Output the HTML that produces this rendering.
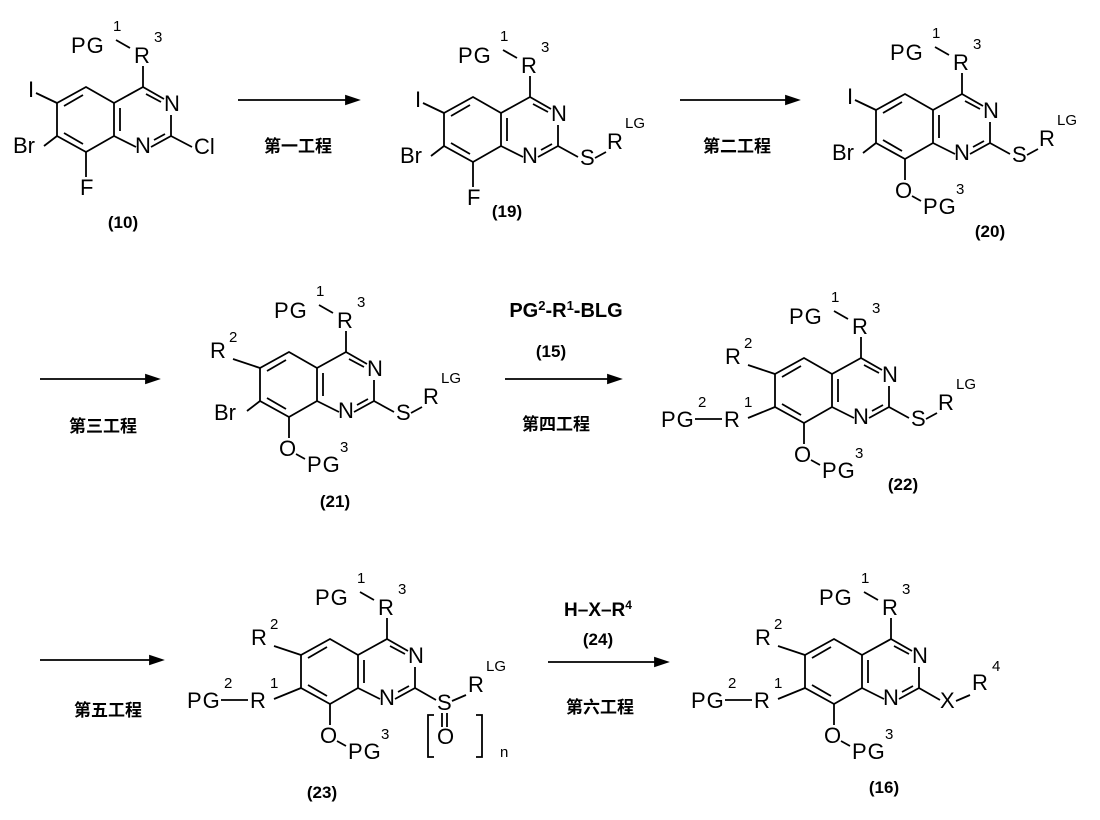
<!DOCTYPE html>
<html><head><meta charset="utf-8"><style>
html,body{margin:0;padding:0;background:#fff;}
svg{display:block;}
text{font-family:"Liberation Sans","Noto Sans CJK SC",sans-serif;fill:#000;}
.a{font-size:22px;}
.s{font-size:15px;}
.b{font-size:17px;font-weight:bold;}
.c{font-size:17px;font-weight:bold;font-family:"Liberation Sans","Noto Sans CJK SC","WenQuanYi Zen Hei",sans-serif;}
</style></head><body>
<svg width="1100" height="820" viewBox="0 0 1100 820" xmlns="http://www.w3.org/2000/svg">
<defs>
<g id="core" stroke="#000" stroke-width="1.8" fill="none">
<path d="M0,0 L29,-16 L50,-4 M57,12 L57,33 L37,44 M22,44 L0,33 L0,0 L-28,-16 L-57,0 L-57,33 L-28,49 L0,33"/>
<path d="M32,-9 L47,-1 M51,31 L40,37 M6,5 L6,28 M-31,-8 L-50,3 M-50,30 L-31,41"/>
<path d="M29,-16 L29,-37 M2,-63 L16,-55"/>
</g>
<g id="top">
<text class="a" x="50" y="8">N</text>
<text class="a" x="21" y="50">N</text>
<text class="a" x="20" y="-40">R</text>
<text class="s" x="40" y="-61">3</text>
<text class="a" x="-43" y="-50" letter-spacing="1">PG</text>
<text class="s" x="-1" y="-72">1</text>
</g>
</defs>
<g stroke="#000" stroke-width="1.8" fill="#000">
<line x1="238" y1="100" x2="348" y2="100"/><path d="M358,100 L346,96 L346,104Z"/>
<line x1="680" y1="100" x2="788" y2="100"/><path d="M798,100 L786,96 L786,104Z"/>
<line x1="40" y1="379" x2="148" y2="379"/><path d="M158,379 L146,375 L146,383Z"/>
<line x1="505" y1="379" x2="610" y2="379"/><path d="M620,379 L608,375 L608,383Z"/>
<line x1="40" y1="660" x2="152" y2="660"/><path d="M162,660 L150,656 L150,664Z"/>
<line x1="548" y1="662" x2="657" y2="662"/><path d="M667,662 L655,658 L655,666Z"/>
</g>
<text class="c" x="298" y="152" text-anchor="middle">第一工程</text>
<text class="c" x="737" y="152" text-anchor="middle">第二工程</text>
<text class="c" x="103" y="432" text-anchor="middle">第三工程</text>
<text class="c" x="556" y="430" text-anchor="middle">第四工程</text>
<text class="c" x="108" y="716" text-anchor="middle">第五工程</text>
<text class="c" x="600" y="713" text-anchor="middle">第六工程</text>
<text x="566" y="317" text-anchor="middle" style="font-size:20px;font-weight:bold">PG<tspan style="font-size:13px" dy="-7">2</tspan><tspan dy="7">-R</tspan><tspan style="font-size:13px" dy="-7">1</tspan><tspan dy="7">-BLG</tspan></text>
<text class="b" x="551" y="357" text-anchor="middle">(15)</text>
<text x="598" y="616" text-anchor="middle" style="font-size:19px;font-weight:bold">H–X–R<tspan style="font-size:12px" dy="-7">4</tspan></text>
<text class="b" x="598" y="645" text-anchor="middle">(24)</text>
<text class="b" x="123" y="228" text-anchor="middle">(10)</text>
<text class="b" x="507" y="217" text-anchor="middle">(19)</text>
<text class="b" x="990" y="237" text-anchor="middle">(20)</text>
<text class="b" x="335" y="507" text-anchor="middle">(21)</text>
<text class="b" x="903" y="490" text-anchor="middle">(22)</text>
<text class="b" x="322" y="798" text-anchor="middle">(23)</text>
<text class="b" x="884" y="793" text-anchor="middle">(16)</text>

<g transform="translate(114,103)">
<use href="#core"/><use href="#top"/>
<path d="M-78,-10 L-57,0 M-70,43 L-57,33 M-28,49 L-28,74 M57,33 L78,44" stroke="#000" stroke-width="1.8"/>
<text class="a" x="-86" y="-6">I</text>
<text class="a" x="-101" y="50">Br</text>
<text class="a" x="-34" y="92">F</text>
<text class="a" x="80" y="51">Cl</text>
</g>
<g transform="translate(501,113)">
<use href="#core"/><use href="#top"/>
<path d="M-78,-10 L-57,0 M-70,43 L-57,33 M-28,49 L-28,74 M57,33 L77,44 M94,45 L105,39" stroke="#000" stroke-width="1.8"/>
<text class="a" x="-86" y="-6">I</text>
<text class="a" x="-101" y="50">Br</text>
<text class="a" x="-34" y="92">F</text>
<text class="a" x="79" y="52">S</text>
<text class="a" x="106" y="36">R</text>
<text class="s" x="124" y="15">LG</text>
</g>
<g transform="translate(933,110)">
<use href="#core"/><use href="#top"/>
<path d="M-78,-10 L-57,0 M-70,43 L-57,33 M-28,49 L-28,70 M57,33 L77,44 M94,45 L105,39 M-21,86 L-12,91" stroke="#000" stroke-width="1.8"/>
<text class="a" x="-86" y="-6">I</text>
<text class="a" x="-101" y="50">Br</text>
<text class="a" x="-38" y="88">O</text>
<text class="a" x="-10" y="104" letter-spacing="1">PG</text>
<text class="s" x="23" y="84">3</text>
<text class="a" x="79" y="52">S</text>
<text class="a" x="106" y="36">R</text>
<text class="s" x="124" y="15">LG</text>
</g>
<g transform="translate(317,368)">
<use href="#core"/><use href="#top"/>
<path d="M-84,-9 L-57,0 M-70,43 L-57,33 M-28,49 L-28,70 M57,33 L77,44 M94,45 L105,39 M-21,86 L-12,91" stroke="#000" stroke-width="1.8"/>
<text class="a" x="-107" y="-10">R</text>
<text class="s" x="-88" y="-26">2</text>
<text class="a" x="-103" y="52">Br</text>
<text class="a" x="-38" y="88">O</text>
<text class="a" x="-10" y="104" letter-spacing="1">PG</text>
<text class="s" x="23" y="84">3</text>
<text class="a" x="79" y="52">S</text>
<text class="a" x="106" y="36">R</text>
<text class="s" x="124" y="15">LG</text>
</g>
<g transform="translate(832,374)">
<use href="#core"/><use href="#top"/>
<path d="M-84,-9 L-57,0 M-84,44 L-57,33 M-137,45 L-110,45 M-28,49 L-28,70 M57,33 L77,44 M94,45 L105,39 M-21,86 L-12,91" stroke="#000" stroke-width="1.8"/>
<text class="a" x="-107" y="-10">R</text>
<text class="s" x="-88" y="-26">2</text>
<text class="a" x="-171" y="53" letter-spacing="1">PG</text>
<text class="s" x="-134" y="33">2</text>
<text class="a" x="-108" y="53">R</text>
<text class="s" x="-88" y="33">1</text>
<text class="a" x="-38" y="88">O</text>
<text class="a" x="-10" y="104" letter-spacing="1">PG</text>
<text class="s" x="23" y="84">3</text>
<text class="a" x="79" y="52">S</text>
<text class="a" x="106" y="36">R</text>
<text class="s" x="124" y="15">LG</text>
</g>
<g transform="translate(358,655)">
<use href="#core"/><use href="#top"/>
<path d="M-84,-9 L-57,0 M-84,44 L-57,33 M-137,45 L-110,45 M-28,49 L-28,70 M57,33 L78,45 M94,46 L108,40 M-21,86 L-12,91 M84,58 L84,72 M89,58 L89,72" stroke="#000" stroke-width="1.8" fill="none"/>
<path d="M76,60 H70 V102 H76 M118,60 H124 V102 H118" stroke="#000" stroke-width="1.8" fill="none"/>
<text class="a" x="-107" y="-10">R</text>
<text class="s" x="-88" y="-26">2</text>
<text class="a" x="-171" y="53" letter-spacing="1">PG</text>
<text class="s" x="-134" y="33">2</text>
<text class="a" x="-108" y="53">R</text>
<text class="s" x="-88" y="33">1</text>
<text class="a" x="-38" y="88">O</text>
<text class="a" x="-10" y="104" letter-spacing="1">PG</text>
<text class="s" x="23" y="84">3</text>
<text class="a" x="79" y="55">S</text>
<text class="a" x="79" y="89">O</text>
<text class="a" x="110" y="37">R</text>
<text class="s" x="128" y="16">LG</text>
<text class="s" x="142" y="102" font-size="16">n</text>
</g>
<g transform="translate(862,655)">
<use href="#core"/><use href="#top"/>
<path d="M-84,-9 L-57,0 M-84,44 L-57,33 M-137,45 L-110,45 M-28,49 L-28,70 M57,33 L78,45 M94,46 L108,40 M-21,86 L-12,91" stroke="#000" stroke-width="1.8"/>
<text class="a" x="-107" y="-10">R</text>
<text class="s" x="-88" y="-26">2</text>
<text class="a" x="-171" y="53" letter-spacing="1">PG</text>
<text class="s" x="-134" y="33">2</text>
<text class="a" x="-108" y="53">R</text>
<text class="s" x="-88" y="33">1</text>
<text class="a" x="-38" y="88">O</text>
<text class="a" x="-10" y="104" letter-spacing="1">PG</text>
<text class="s" x="23" y="84">3</text>
<text class="a" x="78" y="53">X</text>
<text class="a" x="110" y="35">R</text>
<text class="s" x="130" y="16">4</text>
</g>
</svg>
</body></html>
